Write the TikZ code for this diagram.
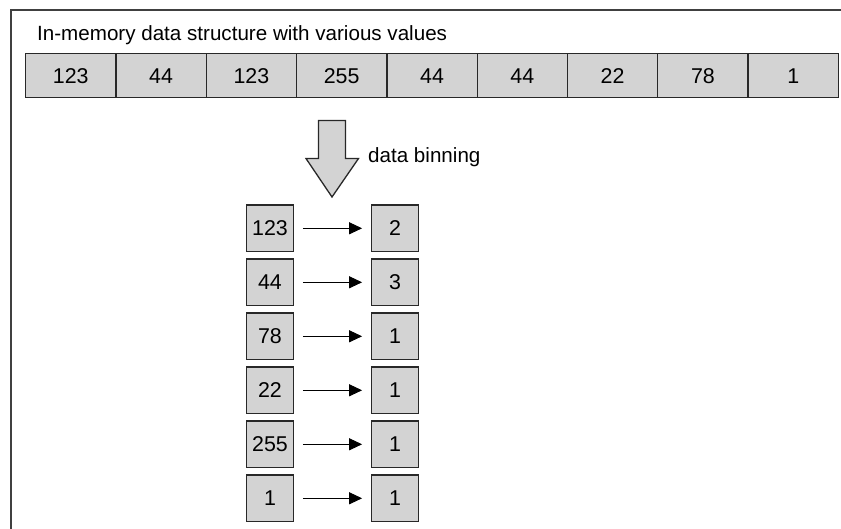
\documentclass[tikz,border=0pt]{standalone}
\usepackage{fontspec}
\setmainfont{Liberation Sans}
\usetikzlibrary{arrows.meta}
\definecolor{boxfill}{RGB}{211,211,211}
\definecolor{boxline}{RGB}{40,40,40}
\begin{document}
\begin{tikzpicture}[x=1pt,y=-1pt,
  txt/.style={font=\fontsize{20.6}{24}\selectfont, inner sep=0pt},
  num/.style={font=\fontsize{21.4}{24}\selectfont, inner sep=0pt},
  cell/.style={num, draw=boxline, fill=boxfill, line width=1.3pt,
    minimum width=90.3pt, minimum height=44pt, anchor=north west},
  sq/.style={num, draw=boxline, fill=boxfill, line width=1.3pt,
    minimum width=46.5pt, minimum height=46.5pt},
  conn/.style={-{Triangle[length=13pt,width=12pt]}, line width=1pt,
    shorten <=9pt, shorten >=9pt},
  frame/.style={line width=2pt, draw=black!75}]
\useasboundingbox (0,0) rectangle (841,529);
% frame
\coordinate (fbl) at (10.8,529);
\coordinate (ftl) at (10.8,10);
\coordinate (ftr) at (841,10);
\draw[frame] (fbl) -- (ftl) -- (ftr);
% title
\node[txt, anchor=base west] (title) at (37,41) {In-memory data structure with various values};
% top row
\foreach \v [count=\i from 0] in {123,44,123,255,44,44,22,78,1}{
  \node[cell] (c\i) at ({25+\i*90.3},53) {\v};
}
% big arrow
\draw[draw=boxline, fill=boxfill, line width=1.3pt, line join=miter]
  (318.5,120.5) -- (345.5,120.5) -- (345.5,158.5) -- (358.5,158.5)
  -- (332,197) -- (306,158.5) -- (318.5,158.5) -- cycle;
\node[txt, anchor=base west] (bin) at (368,163) {data binning};
% bins
\foreach \a/\b [count=\k from 0] in {123/2,44/3,78/1,22/1,255/1,1/1}{
  \node[sq] (l\k) at (270,{228.3+54*\k}) {\a};
  \node[sq] (r\k) at (395,{228.3+54*\k}) {\b};
  \draw[conn] (l\k) -- (r\k);
}
\end{tikzpicture}
\end{document}
